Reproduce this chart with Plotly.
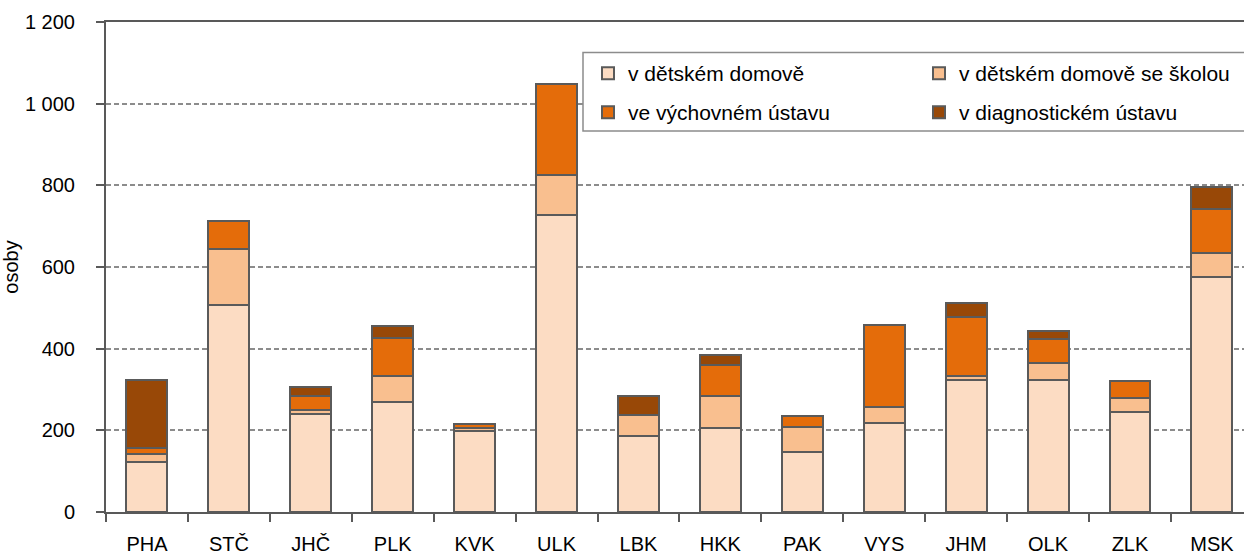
import plotly.graph_objects as go

# ---- data ----
categories = ["PHA", "STČ", "JHČ", "PLK", "KVK", "ULK", "LBK", "HKK", "PAK", "VYS", "JHM", "OLK", "ZLK", "MSK"]
v_detskem_domove = [122, 508, 240, 269, 198, 727, 185, 205, 147, 219, 323, 323, 244, 575]
v_domove_se_skolou = [20, 136, 9, 64, 8, 98, 53, 78, 62, 38, 10, 43, 34, 59]
ve_vychovnem_ustavu = [14, 69, 34, 92, 9, 223, 0, 77, 25, 202, 145, 58, 44, 107]
v_diagnostickem_ustavu = [167, 0, 24, 30, 0, 0, 46, 25, 0, 0, 35, 20, 0, 55]

series_names = ["v dětském domově", "v dětském domově se školou",
                "ve výchovném ústavu", "v diagnostickém ústavu"]
series_colors = ["#FCDCC3", "#F9BF8F", "#E46C0A", "#984807"]
series_legends = ["legend", "legend", "legend2", "legend2"]

y_tick_values = [0, 200, 400, 600, 800, 1000, 1200]
y_tick_labels = ["0", "200", "400", "600", "800", "1 000", "1 200"]

FONT = "Arial, Liberation Sans, sans-serif"
AXIS_COLOR = "#595959"

fig = go.Figure()
for name, vals, col, lg in zip(series_names,
                               [v_detskem_domove, v_domove_se_skolou, ve_vychovnem_ustavu, v_diagnostickem_ustavu],
                               series_colors, series_legends):
    fig.add_trace(go.Bar(
        x=categories, y=vals, name=name, legend=lg,
        marker=dict(color=col, line=dict(color="#5A5A5A", width=2)),
        width=0.5,
    ))

W, H = 1244, 557
ml, mt, mb = 106, 22, 45
plot_w = W - ml
plot_h = H - mt - mb

def px_x(p):
    return (p - ml) / plot_w

def px_y(p):
    return (H - mb - p) / plot_h

pitch = 81.92
x_max = -0.5 + plot_w / pitch

fig.update_layout(
    width=W, height=H, autosize=False,
    barmode="stack",
    paper_bgcolor="white", plot_bgcolor="white",
    margin=dict(l=ml, r=0, t=mt, b=mb, pad=0, autoexpand=False),
    font=dict(family=FONT, size=20, color="#000000"),
    xaxis=dict(
        type="category", range=[-0.5, x_max], automargin=False,
        showline=True, linecolor=AXIS_COLOR, linewidth=2, mirror=True,
        ticks="outside", tickson="boundaries", ticklen=8, tickwidth=2, tickcolor=AXIS_COLOR,
        showgrid=False, ticklabelstandoff=13,
        tickfont=dict(family=FONT, size=20, color="#000000"),
    ),
    yaxis=dict(
        range=[0, 1200], tickvals=y_tick_values, ticktext=y_tick_labels, automargin=False,
        showline=True, linecolor=AXIS_COLOR, linewidth=2,
        ticks="outside", ticklen=8, tickwidth=2, tickcolor=AXIS_COLOR,
        showgrid=True, gridcolor="#8C8C8C", gridwidth=2, griddash="5px,3px",
        zeroline=False, ticklabelstandoff=17,
        tickfont=dict(family=FONT, size=20, color="#000000"),
        title=dict(text="osoby", font=dict(family=FONT, size=20, color="#000000"), standoff=8),
    ),
    legend=dict(
        orientation="h", x=px_x(588), xanchor="left", y=px_y(73.5), yanchor="middle",
        bgcolor="rgba(0,0,0,0)", borderwidth=0, entrywidth=286, entrywidthmode="pixels",
        font=dict(family=FONT, size=21, color="#000000"), traceorder="normal",
    ),
    legend2=dict(
        orientation="h", x=px_x(588), xanchor="left", y=px_y(112.5), yanchor="middle",
        bgcolor="rgba(0,0,0,0)", borderwidth=0, entrywidth=286, entrywidthmode="pixels",
        font=dict(family=FONT, size=21, color="#000000"), traceorder="normal",
    ),
    shapes=[dict(
        type="rect", xref="paper", yref="paper",
        x0=px_x(583), x1=px_x(1250), y0=px_y(131), y1=px_y(52.5),
        line=dict(color="#8C8C8C", width=1.5), fillcolor="white", layer="above",
    )],
    showlegend=True,
)

fig.write_html("out.html", config={"displayModeBar": False},
               post_script="document.body.style.margin='0';document.body.style.overflow='hidden';")
